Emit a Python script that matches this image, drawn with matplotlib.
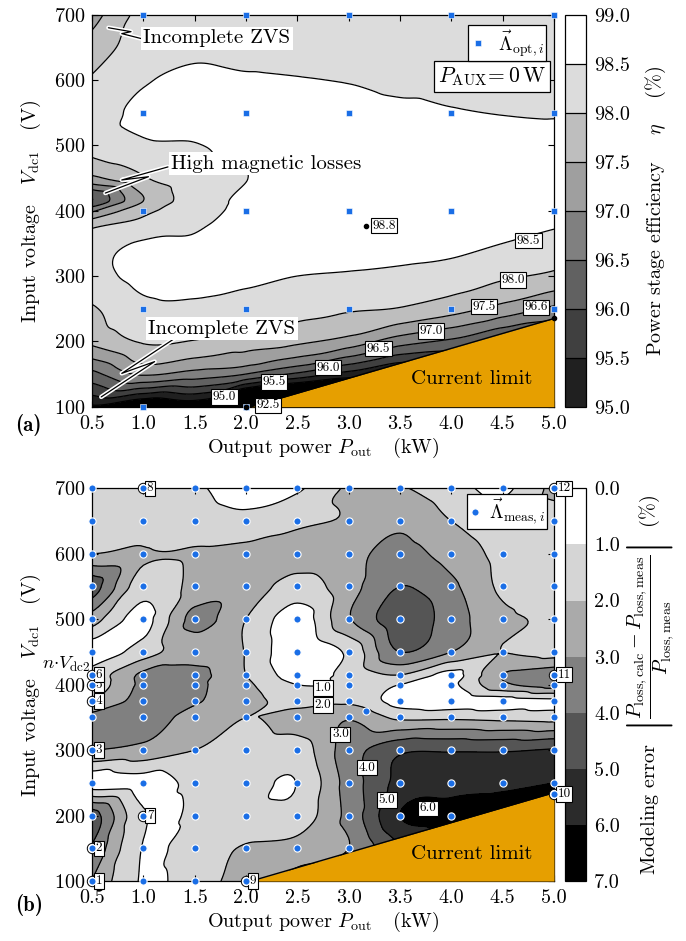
import numpy as np
import matplotlib
matplotlib.use("Agg")
import matplotlib.pyplot as plt
import matplotlib.tri as mtri
import matplotlib.patheffects as pe
from matplotlib.colors import ListedColormap, BoundaryNorm
from matplotlib.cm import ScalarMappable
from matplotlib.transforms import blended_transform_factory

plt.rcParams.update({
    "font.family": "serif",
    "font.serif": ["cmr10", "DejaVu Serif"],
    "mathtext.fontset": "cm",
    "axes.formatter.use_mathtext": True,
    "axes.unicode_minus": False,
    "font.size": 14.5,
    "axes.linewidth": 0.9,
    "xtick.direction": "in",
    "ytick.direction": "in",
    "xtick.top": True,
    "ytick.right": True,
    "xtick.major.size": 4,
    "ytick.major.size": 4,
    "xtick.major.pad": 6,
    "ytick.major.pad": 5,
})

# --- grid on which the maps were read (kW, V) ---
P_COLS = [0.5, 1.0, 1.5, 2.0, 2.5, 3.0, 3.5, 4.0, 4.5, 5.0]
V_ROWS = [100, 150, 200, 250, 300, 350, 375, 400, 415, 450, 500, 550, 600, 650, 700]

# power stage efficiency (%), one row per V_ROWS entry
ETA = [
    [94.9, 94.3, 94.5, 92.5, 92.0, 92.5, 93.0, 93.5, 94.0, 94.5],
    [96.35, 97.07, 96.8, 96.5, 95.9, 95.3, 94.8, 95.0, 95.0, 95.2],
    [97.62, 98.05, 97.97, 97.75, 97.61, 97.3, 96.73, 96.4, 95.9, 95.8],
    [97.95, 98.38, 98.4, 98.25, 98.15, 98.06, 97.97, 97.71, 97.33, 96.9],
    [98.35, 98.62, 98.65, 98.62, 98.5, 98.45, 98.38, 98.27, 98.08, 97.9],
    [98.3, 98.55, 98.56, 98.75, 98.75, 98.75, 98.72, 98.65, 98.5, 98.34],
    [97.95, 98.2, 98.45, 98.7, 98.8, 98.8, 98.78, 98.72, 98.62, 98.52],
    [96.9, 97.85, 98.3, 98.62, 98.8, 98.8, 98.8, 98.75, 98.7, 98.65],
    [96.0, 97.5, 98.25, 98.6, 98.8, 98.78, 98.79, 98.75, 98.71, 98.69],
    [97.4, 97.95, 98.35, 98.49, 98.8, 98.75, 98.74, 98.72, 98.72, 98.72],
    [98.2, 98.42, 98.48, 98.6, 98.72, 98.7, 98.65, 98.63, 98.62, 98.65],
    [98.25, 98.62, 98.7, 98.7, 98.7, 98.65, 98.58, 98.52, 98.49, 98.47],
    [98.05, 98.45, 98.6, 98.55, 98.52, 98.48, 98.4, 98.4, 98.38, 98.35],
    [97.7, 98.25, 98.4, 98.35, 98.35, 98.3, 98.3, 98.3, 98.3, 98.3],
    [97.3, 98.15, 98.25, 98.25, 98.25, 98.2, 98.2, 98.2, 98.2, 98.25],
]

# modeling error (%), one row per V_ROWS entry
ERR = [
    [3.0, 0.9, 1.5, 2.5, 3.5, 4.5, 5.5, 6.5, 7.0, 7.5],
    [3.9, 0.95, 1.5, 2.1, 2.4, 3.0, 5.0, 6.5, 7.0, 7.5],
    [4.5, 1.1, 1.1, 1.3, 1.4, 3.3, 6.0, 6.4, 6.8, 7.0],
    [0.5, 0.6, 1.2, 1.3, 1.03, 3.4, 5.3, 5.6, 5.7, 6.0],
    [3.0, 2.7, 2.0, 1.4, 1.5, 3.5, 4.8, 4.9, 4.9, 5.1],
    [3.3, 3.5, 2.6, 2.0, 2.4, 2.9, 1.8, 1.8, 1.7, 1.6],
    [2.0, 3.3, 3.1, 2.4, 1.6, 1.8, 0.6, 0.4, 0.6, 0.8],
    [1.2, 3.2, 3.2, 2.2, 1.0, 1.1, 1.0, 0.8, 2.8, 3.5],
    [1.3, 3.2, 3.3, 2.0, 0.6, 1.3, 2.0, 0.7, 3.0, 3.6],
    [0.5, 1.5, 2.5, 1.95, 0.3, 1.2, 4.0, 3.0, 2.0, 1.6],
    [2.5, 0.7, 3.3, 2.0, 0.5, 2.9, 4.6, 3.5, 2.2, 1.9],
    [4.5, 1.4, 2.3, 2.5, 1.6, 2.6, 4.0, 3.2, 1.8, 1.4],
    [2.0, 2.1, 2.1, 2.3, 2.4, 2.7, 3.3, 2.6, 1.7, 1.0],
    [1.5, 1.5, 1.5, 1.3, 1.8, 2.1, 2.8, 2.0, 1.5, 1.5],
    [1.5, 1.4, 1.15, 0.5, 0.85, 2.1, 2.05, 1.4, 0.8, 2.2],
]

# current limit boundary
LIMIT_P = [2.05, 5.0]
LIMIT_V = [100, 235]

# optimisation points (a)
OPT_P = [1, 2, 3, 4, 5, 1, 2, 3, 4, 5, 1, 2, 3, 4, 5, 1, 2, 3, 4, 5, 1, 2]
OPT_V = [700] * 5 + [550] * 5 + [400] * 5 + [250] * 5 + [100] * 2

# marked efficiency values (a)
MARK_P = [3.17, 5.0, 2.0]
MARK_V = [376, 236, 100]
MARK_TXT = ["98.8", "96.6", "92.5"]

# measurement points (b): each row uses the first n columns of P_COLS
MEAS_ROW_V = [100, 150, 200, 250, 300, 350, 375, 400, 415, 450, 500, 550, 600, 650, 700]
MEAS_ROW_N = [4, 6, 8, 10, 10, 10, 10, 10, 10, 10, 10, 10, 10, 10, 10]
MEAS_EXTRA_P = [3.17, 5.0]
MEAS_EXTRA_V = [360, 233]

# numbered measurement points (b)
NUM_P = [0.5, 0.5, 0.5, 0.5, 0.5, 0.5, 1.0, 1.0, 2.0, 5.0, 5.0, 5.0]
NUM_V = [100, 150, 300, 375, 400, 415, 200, 700, 100, 233, 415, 700]
NUM_ID = ["1", "2", "3", "4", "5", "6", "7", "8", "9", "10", "11", "12"]

# contour labels
ETA_LBL = [("98.5", 4.75, 354), ("98.0", 4.6, 294), ("97.5", 4.32, 253), ("97.0", 3.8, 216),
           ("96.5", 3.29, 189), ("96.0", 2.8, 160), ("95.5", 2.27, 138), ("95.0", 1.79, 115)]
ERR_LBL = [("1.0", 2.75, 395), ("2.0", 2.75, 369), ("3.0", 2.92, 324), ("4.0", 3.18, 273),
           ("5.0", 3.37, 224), ("6.0", 3.77, 211)]

BLUE = "#1a6ee6"
ORANGE = "#E69F00"

ETA_BANDS = [95.0, 95.5, 96.0, 96.5, 97.0, 97.5, 98.0, 98.5, 99.0]
ETA_GRAYS = ["#202020", "#404040", "#616161", "#808080", "#9f9f9f", "#bebebe", "#dcdcdc", "#ffffff"]
ERR_BANDS = [0, 1, 2, 3, 4, 5, 6, 7]
ERR_GRAYS = ["#ffffff", "#d5d5d5", "#aaaaaa", "#808080", "#555555", "#2b2b2b", "#000000"]


def smooth_field(values):
    ncol, nrow = len(P_COLS), len(V_ROWS)
    P, V = np.meshgrid(P_COLS, V_ROWS)
    x = P.ravel()
    y = V.ravel() / 100.0
    z = np.asarray(values, dtype=float).ravel()
    tris = []
    for i in range(nrow - 1):
        for j in range(ncol - 1):
            k = i * ncol + j
            tris.append([k, k + 1, k + ncol + 1])
            tris.append([k, k + ncol + 1, k + ncol])
    tri = mtri.Triangulation(x, y, np.array(tris))
    interp = mtri.CubicTriInterpolator(tri, z, kind="geom")
    tri_f, z_f = mtri.UniformTriRefiner(tri).refine_field(z, triinterpolator=interp, subdiv=4)
    return mtri.Triangulation(tri_f.x, tri_f.y * 100.0, tri_f.triangles), z_f


def style_axes(ax):
    ax.set_xlim(0.5, 5.0)
    ax.set_ylim(100, 700)
    ax.set_xticks(P_COLS)
    ax.set_xticklabels([f"{p:.1f}" for p in P_COLS])
    ax.set_yticks(range(100, 701, 100))
    ax.set_xlabel(r"Output power $P_{\mathrm{out}}$   (kW)", labelpad=2)
    ax.set_ylabel(r"Input voltage   $V_{\mathrm{dc1}}$   (V)", labelpad=8)


def draw_limit(ax):
    ax.fill_between(LIMIT_P, LIMIT_V, 100, color=ORANGE, lw=0, zorder=3)
    ax.plot(LIMIT_P, LIMIT_V, color="k", lw=1.0, zorder=3.2)
    ax.text(4.2, 142, "Current limit", ha="center", va="center", fontsize=15, zorder=4)


def leader(ax, pts):
    xs, ys = zip(*pts)
    ax.plot(xs, ys, color="k", lw=0.9, zorder=6, solid_capstyle="round",
            path_effects=[pe.Stroke(linewidth=3.2, foreground="white"), pe.Normal()])


def box_label(ax, txt, x, y, **kw):
    ax.text(x, y, txt, fontsize=9.5, ha=kw.pop("ha", "center"), va="center", zorder=7,
            bbox=dict(boxstyle="square,pad=0.12", fc="white", ec="black", lw=0.8), **kw)


fig = plt.figure(figsize=(6.86, 9.41), dpi=100)
ax_a = fig.add_axes([0.1341, 0.5678, 0.6735, 0.4166], zorder=2)
cax_a = fig.add_axes([0.8236, 0.5678, 0.0306, 0.4166], zorder=1)
ax_b = fig.add_axes([0.1341, 0.0637, 0.6735, 0.4174], zorder=2)
cax_b = fig.add_axes([0.8236, 0.0637, 0.0306, 0.4174], zorder=1)

# ---------------- (a) efficiency ----------------
tri_a, z_a = smooth_field(ETA)
ax_a.tricontourf(tri_a, z_a, levels=[80] + ETA_BANDS[:-1] + [101],
                 colors=["#000000"] + ETA_GRAYS, zorder=1)
ax_a.tricontour(tri_a, z_a, levels=ETA_BANDS[:-1], colors="k", linewidths=0.9, zorder=2)
draw_limit(ax_a)

ax_a.plot(OPT_P, OPT_V, "s", color=BLUE, ms=4.3, mec="white", mew=0.4, zorder=8,
          clip_on=False, label=r"$\vec{\Lambda}_{\mathrm{opt},i}$")
ax_a.plot(MARK_P, MARK_V, "o", color="k", ms=3, zorder=9, clip_on=False)
box_label(ax_a, MARK_TXT[0], MARK_P[0] + 0.06, MARK_V[0] + 1, ha="left")
box_label(ax_a, MARK_TXT[1], MARK_P[1] - 0.06, MARK_V[1] + 16, ha="right")
box_label(ax_a, MARK_TXT[2], MARK_P[2] + 0.1, MARK_V[2] + 2, ha="left")
for txt, x, y in ETA_LBL:
    box_label(ax_a, txt, x, y)

leg = ax_a.legend(loc="upper right", bbox_to_anchor=(0.983, 0.973), fontsize=14,
                  frameon=True, fancybox=False, framealpha=1, edgecolor="black",
                  handlelength=0.8, handletextpad=0.6, borderpad=0.12, borderaxespad=0)
leg.get_frame().set_linewidth(0.9)
leg.set_zorder(10)
ax_a.text(0.983, 0.842, r"$P_{\mathrm{AUX}}\!=0\,\mathrm{W}$", transform=ax_a.transAxes,
          ha="right", va="center", fontsize=15.5, zorder=10,
          bbox=dict(boxstyle="square,pad=0.2", fc="white", ec="black", lw=0.9))

white_box = dict(boxstyle="square,pad=0.12", fc="white", ec="none")
ax_a.text(1.0, 664, "Incomplete ZVS", ha="left", va="center", fontsize=15, bbox=white_box, zorder=7)
leader(ax_a, [(0.99, 663), (0.79, 671), (0.88, 674), (0.66, 680)])
ax_a.text(1.27, 472, "High magnetic losses", ha="left", va="center", fontsize=15, bbox=white_box, zorder=7)
leader(ax_a, [(1.24, 467), (0.79, 447), (1.05, 452), (0.63, 427)])
ax_a.text(1.05, 219, "Incomplete ZVS", ha="left", va="center", fontsize=15, bbox=white_box, zorder=7)
leader(ax_a, [(1.31, 205), (0.79, 151), (1.11, 169), (0.59, 115)])

style_axes(ax_a)

cmap_a = ListedColormap(ETA_GRAYS)
norm_a = BoundaryNorm(ETA_BANDS, cmap_a.N)
cb_a = fig.colorbar(ScalarMappable(norm=norm_a, cmap=cmap_a), cax=cax_a, drawedges=True)
cb_a.set_ticks(ETA_BANDS)
cb_a.set_ticklabels([f"{v:.1f}" for v in ETA_BANDS])
cb_a.ax.tick_params(length=0, labelsize=14.5, pad=6)
cb_a.outline.set_linewidth(0.9)
cb_a.dividers.set_linewidth(0.9)
cb_a.set_label(r"Power stage efficiency    $\eta$    (%)", fontsize=14.5, labelpad=10)

# ---------------- (b) modeling error ----------------
tri_b, z_b = smooth_field(ERR)
ax_b.tricontourf(tri_b, z_b, levels=[-20, 1, 2, 3, 4, 5, 6, 50], colors=ERR_GRAYS, zorder=1)
ax_b.tricontour(tri_b, z_b, levels=ERR_BANDS[1:-1], colors="k", linewidths=0.9, zorder=2)
draw_limit(ax_b)

meas_p, meas_v = [], []
for v, n in zip(MEAS_ROW_V, MEAS_ROW_N):
    meas_p += P_COLS[:n]
    meas_v += [v] * n
meas_p += MEAS_EXTRA_P
meas_v += MEAS_EXTRA_V

ax_b.plot(NUM_P, NUM_V, "o", ms=7.5, mfc="white", mec="black", mew=0.7, zorder=6, clip_on=False)
for p, v, t in zip(NUM_P, NUM_V, NUM_ID):
    ax_b.annotate(t, (p, v), xytext=(2.5, 0), textcoords="offset points", ha="left", va="center",
                  fontsize=9.5, zorder=7, annotation_clip=False,
                  bbox=dict(boxstyle="square,pad=0.12", fc="white", ec="black", lw=0.8))
ax_b.plot(meas_p, meas_v, "o", color=BLUE, ms=5.2, mec="white", mew=0.8, zorder=8,
          clip_on=False, label=r"$\vec{\Lambda}_{\mathrm{meas},i}$")
for txt, x, y in ERR_LBL:
    box_label(ax_b, txt, x, y)

leg_b = ax_b.legend(loc="upper right", bbox_to_anchor=(0.985, 0.985), fontsize=14,
                    frameon=True, fancybox=False, framealpha=1, edgecolor="black",
                    handlelength=0.6, handletextpad=0.4, borderpad=0.12, borderaxespad=0)
leg_b.get_frame().set_linewidth(0.9)
leg_b.set_zorder(10)

trans = blended_transform_factory(ax_b.transAxes, ax_b.transData)
ax_b.text(-0.004, 431, r"$n{\cdot}V_{\mathrm{dc2}}$", transform=trans, ha="right", va="center",
          fontsize=13.5)

style_axes(ax_b)

cmap_b = ListedColormap(ERR_GRAYS)
norm_b = BoundaryNorm(ERR_BANDS, cmap_b.N)
cb_b = fig.colorbar(ScalarMappable(norm=norm_b, cmap=cmap_b), cax=cax_b, drawedges=True)
cb_b.set_ticks(ERR_BANDS)
cb_b.set_ticklabels([f"{v:.1f}" for v in ERR_BANDS])
cb_b.ax.invert_yaxis()
cb_b.ax.tick_params(length=0, labelsize=14.5, pad=6)
cb_b.outline.set_linewidth(0.9)
cb_b.dividers.set_linewidth(0.9)
cb_b.set_label(r"Modeling error  $\left|\dfrac{P_{\mathrm{loss,calc}}-P_{\mathrm{loss,meas}}}"
               r"{P_{\mathrm{loss,meas}}}\right|$  (%)", fontsize=14.5, labelpad=4)

fig.text(0.022, 1 - 425 / 941, "(a)", family="cmb10", fontsize=15, va="center")
fig.text(0.022, 1 - 905 / 941, "(b)", family="cmb10", fontsize=15, va="center")

fig.savefig("out.png", dpi=100)
